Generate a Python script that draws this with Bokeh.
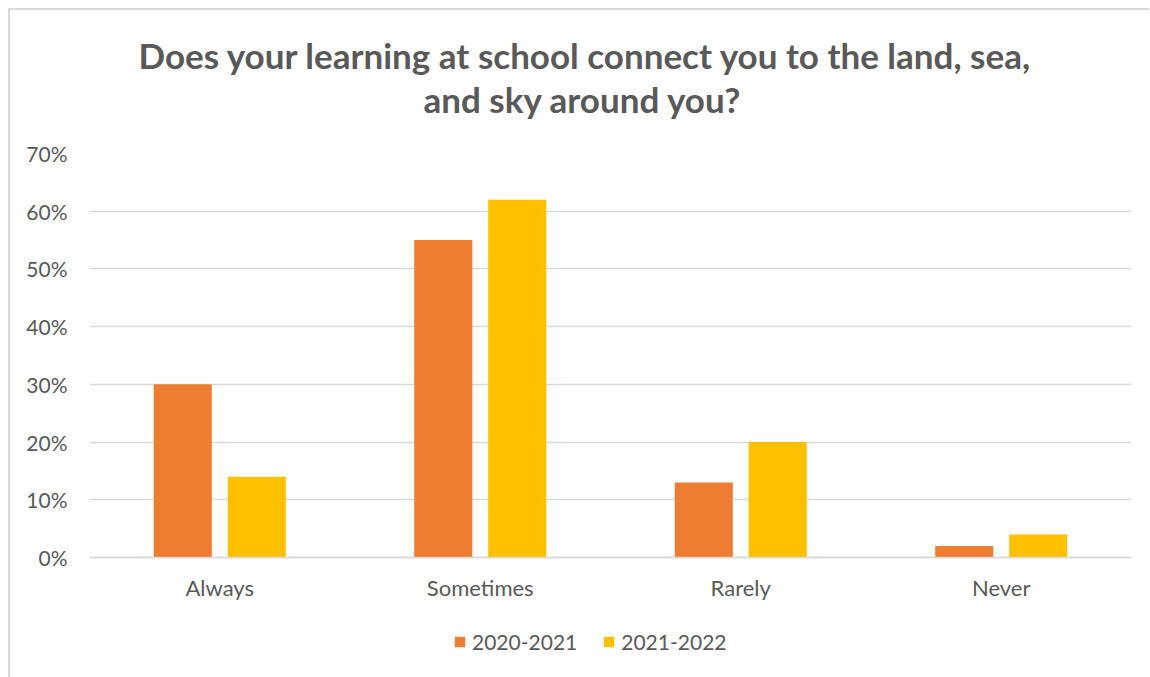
from bokeh.plotting import figure
from bokeh.models import (FactorRange, Range1d, PrintfTickFormatter, Legend, LegendItem,
                          Title, ColumnDataSource)
from bokeh.transform import dodge
from bokeh.embed import file_html
from bokeh.resources import INLINE

categories = ["Always", "Sometimes", "Rarely", "Never"]
series_names = ["2020-2021", "2021-2022"]
values_2020_2021 = [30, 55, 13, 2]
values_2021_2022 = [14, 62, 20, 4]
y_ticks = [0, 10, 20, 30, 40, 50, 60, 70]
title_lines = ["Does your learning at school connect you to the land, sea,", "and sky around you?"]

ORANGE = "#ED7D31"
YELLOW = "#FFC000"
TEXT = "#595959"
GRID = "#D9D9D9"
FONT = "Lato"

# layout: value axis spans 404 px for 0..70; the frame extends below zero
# so that the category labels and the legend can sit inside it
PLOT_PX = 404
BELOW_PX = 122
y_min = -BELOW_PX * y_ticks[-1] / PLOT_PX

src = ColumnDataSource(dict(cat=categories, a=values_2020_2021, b=values_2021_2022))

p = figure(x_range=FactorRange(*categories, range_padding=0), y_range=Range1d(y_min, y_ticks[-1]),
           frame_width=1042, frame_height=PLOT_PX + BELOW_PX, output_backend="svg",
           toolbar_location=None,
           min_border_left=79, min_border_right=18, min_border_top=143, min_border_bottom=0,
           margin=(8, 0, 0, 8))
p.title = None

r1 = p.vbar(x=dodge("cat", -0.142, range=p.x_range), top="a", width=0.223, source=src,
            fill_color=ORANGE, line_color=None)
r2 = p.vbar(x=dodge("cat", 0.142, range=p.x_range), top="b", width=0.223, source=src,
            fill_color=YELLOW, line_color=None)

p.outline_line_color = None
p.xgrid.grid_line_color = None
p.ygrid.grid_line_color = GRID
p.ygrid.grid_line_width = 1.3
p.yaxis.ticker = y_ticks
p.yaxis.formatter = PrintfTickFormatter(format="%d%%")
p.yaxis.axis_line_color = None
p.yaxis.major_tick_line_color = None
p.yaxis.minor_tick_line_color = None
p.yaxis.major_label_text_font = FONT
p.yaxis.major_label_text_font_size = "21px"
p.yaxis.major_label_text_color = TEXT
p.yaxis.major_label_standoff = 16

p.xaxis.fixed_location = 0
p.xaxis.axis_line_color = GRID
p.xaxis.axis_line_width = 1.3
p.xaxis.major_tick_line_color = None
p.xaxis.minor_tick_line_color = None
p.xaxis.major_label_text_font = FONT
p.xaxis.major_label_text_font_size = "22px"
p.xaxis.major_label_text_color = TEXT
p.xaxis.major_label_standoff = 10

legend = Legend(items=[LegendItem(label=series_names[0], renderers=[r1]),
                       LegendItem(label=series_names[1], renderers=[r2])],
                orientation="horizontal", location=(364, 25),
                label_text_font=FONT, label_text_font_size="21px", label_text_color=TEXT,
                glyph_width=13, glyph_height=13, label_standoff=6, spacing=25,
                border_line_color=None, background_fill_alpha=0, margin=0, padding=0)
p.add_layout(legend, "center")

# spacer, then the two title lines (later-added titles sit further from the frame)
p.add_layout(Title(text=" ", text_font=FONT, text_font_size="24px", standoff=3), "above")
p.add_layout(Title(text=title_lines[1], align="left", offset=334, text_font=FONT, standoff=0,
                   text_font_size="35px", text_color=TEXT, text_font_style="bold"), "above")
p.add_layout(Title(text=title_lines[0], align="left", offset=49, text_font=FONT, standoff=0,
                   text_font_size="35px", text_color=TEXT, text_font_style="bold"), "above")

p.styles = {"border-left": "2px solid #D9D9D9", "border-top": "2px solid #D9D9D9"}

open("out.html", "w").write(file_html(p, INLINE))
